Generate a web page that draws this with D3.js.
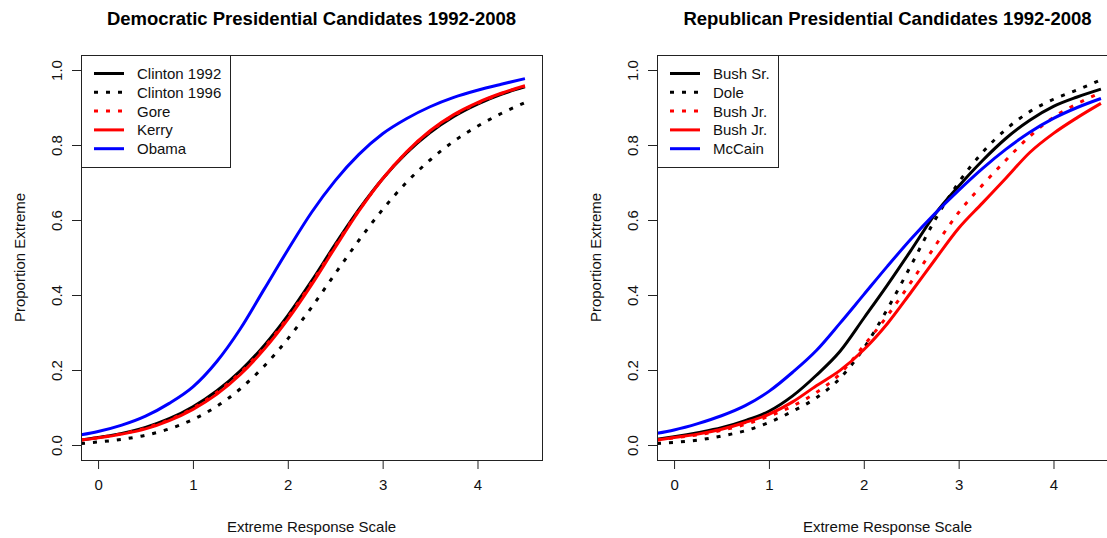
<!DOCTYPE html>
<html>
<head>
<meta charset="utf-8">
<script src="https://cdn.jsdelivr.net/npm/d3@7"></script>
<style>
  body { margin: 0; background: #fff; }
  svg { font-family: "Liberation Sans", Arial, sans-serif; display: block; }
</style>
</head>
<body>
<svg id="canvas" width="1107" height="538"></svg>
<script>
// x grid shared by every curve
let xValues = [-0.18, 0, 0.25, 0.5, 0.75, 1, 1.25, 1.5, 1.75, 2, 2.25, 2.5, 2.75, 3, 3.25, 3.5, 3.75, 4, 4.25, 4.5]

let xTicks = [0, 1, 2, 3, 4]
let yTicks = [0, 0.2, 0.4, 0.6, 0.8, 1.0]

// Democrats
let demNames = ['Clinton 1992', 'Clinton 1996', 'Gore', 'Kerry', 'Obama']
let clinton1992 = [0.013, 0.020, 0.031, 0.047, 0.070, 0.102, 0.144, 0.198, 0.265, 0.345, 0.437, 0.535, 0.628, 0.710, 0.778, 0.833, 0.876, 0.909, 0.935, 0.955]
let clinton1996 = [0.004, 0.008, 0.015, 0.026, 0.043, 0.068, 0.103, 0.150, 0.210, 0.283, 0.367, 0.457, 0.546, 0.628, 0.700, 0.760, 0.810, 0.850, 0.884, 0.913]
let gore = [0.013, 0.020, 0.030, 0.045, 0.067, 0.098, 0.140, 0.193, 0.260, 0.340, 0.432, 0.531, 0.626, 0.710, 0.780, 0.836, 0.879, 0.911, 0.937, 0.957]
let kerry = [0.013, 0.019, 0.029, 0.043, 0.065, 0.095, 0.135, 0.188, 0.255, 0.335, 0.427, 0.527, 0.624, 0.710, 0.781, 0.838, 0.881, 0.913, 0.938, 0.958]
let obama = [0.027, 0.036, 0.053, 0.077, 0.111, 0.155, 0.222, 0.310, 0.415, 0.520, 0.620, 0.705, 0.775, 0.830, 0.870, 0.902, 0.927, 0.946, 0.962, 0.977]

// Republicans
let repNames = ['Bush Sr.', 'Dole', 'Bush Jr.', 'Bush Jr.', 'McCain']
let bushSr = [0.015, 0.022, 0.033, 0.046, 0.065, 0.090, 0.131, 0.186, 0.250, 0.338, 0.427, 0.520, 0.615, 0.690, 0.758, 0.818, 0.866, 0.903, 0.928, 0.949]
let dole = [0.004, 0.007, 0.013, 0.024, 0.038, 0.060, 0.090, 0.126, 0.178, 0.258, 0.363, 0.480, 0.600, 0.700, 0.780, 0.842, 0.889, 0.922, 0.947, 0.974]
let bushJr2000 = [0.013, 0.019, 0.027, 0.039, 0.055, 0.077, 0.104, 0.140, 0.190, 0.265, 0.345, 0.435, 0.530, 0.620, 0.693, 0.760, 0.823, 0.874, 0.910, 0.940]
let bushJr2004 = [0.013, 0.020, 0.029, 0.042, 0.060, 0.082, 0.115, 0.158, 0.199, 0.254, 0.324, 0.408, 0.494, 0.578, 0.645, 0.712, 0.780, 0.831, 0.873, 0.911]
let mccain = [0.031, 0.040, 0.057, 0.078, 0.105, 0.143, 0.194, 0.252, 0.325, 0.401, 0.477, 0.550, 0.617, 0.679, 0.737, 0.789, 0.834, 0.871, 0.900, 0.924]

// line styles, same order in both panels
let lineColors = ['#000000', '#000000', '#ff0000', '#ff0000', '#0000ff']
let lineDash = [null, '4,8', '4,8', null, null]

let svg = d3.select('#canvas')

let plotW = 461
let plotTop = 55
let plotBottom = 460

let drawPanel = (left, title, names, series, legendW, id) => {
    let x = d3.scaleLinear().domain([-0.18, 4.68]).range([left, left + plotW])
    let y = d3.scaleLinear().domain([-0.04, 1.04]).range([plotBottom, plotTop])
    let g = svg.append('g')

    g.append('clipPath').attr('id', 'clip' + id)
        .append('rect')
        .attr('x', left).attr('y', plotTop)
        .attr('width', plotW).attr('height', plotBottom - plotTop)

    let line = d3.line()
        .x((d, i) => x(xValues[i]))
        .y(d => y(d))
        .curve(d3.curveMonotoneX)

    // draw in order so later series sit on top
    let order = [0, 1, 2, 3, 4]
    g.append('g').attr('clip-path', 'url(#clip' + id + ')')
        .selectAll('path')
        .data(order)
        .enter()
        .append('path')
        .attr('d', i => line(series[i]))
        .attr('fill', 'none')
        .attr('stroke', i => lineColors[i])
        .attr('stroke-width', 3)
        .attr('stroke-dasharray', i => lineDash[i])

    // axes
    let xAxis = d3.axisBottom(x).tickValues(xTicks).tickFormat(d3.format('d')).tickSize(9).tickPadding(10)
    let gx = g.append('g').attr('transform', 'translate(0,' + plotBottom + ')').call(xAxis)
    gx.select('.domain').remove()
    gx.selectAll('text').attr('font-size', 15).attr('fill', '#111').attr('font-family', 'Liberation Sans, Arial, sans-serif')
    gx.selectAll('line').attr('stroke', '#222')

    let yAxis = d3.axisLeft(y).tickValues(yTicks).tickFormat(d3.format('.1f')).tickSize(9)
    let gy = g.append('g').attr('transform', 'translate(' + left + ',0)').call(yAxis)
    gy.select('.domain').remove()
    gy.selectAll('line').attr('stroke', '#222')
    gy.selectAll('text')
        .attr('font-size', 15).attr('fill', '#111').attr('font-family', 'Liberation Sans, Arial, sans-serif')
        .attr('x', null).attr('dy', null)
        .attr('text-anchor', 'middle')
        .attr('transform', 'translate(-19,0) rotate(-90)')

    // frame
    g.append('rect')
        .attr('x', left + 0.5).attr('y', plotTop + 0.5)
        .attr('width', plotW).attr('height', plotBottom - plotTop)
        .attr('fill', 'none').attr('stroke', '#222').attr('stroke-width', 1)

    // titles
    g.append('text')
        .attr('x', left + plotW / 2).attr('y', 25)
        .attr('text-anchor', 'middle')
        .attr('font-size', 18.5).attr('font-weight', 'bold')
        .text(title)
    g.append('text')
        .attr('x', left + plotW / 2).attr('y', 532)
        .attr('text-anchor', 'middle')
        .attr('font-size', 15).attr('fill', '#111')
        .text('Extreme Response Scale')
    g.append('text')
        .attr('transform', 'translate(' + (left - 56) + ',' + ((plotTop + plotBottom) / 2) + ') rotate(-90)')
        .attr('text-anchor', 'middle')
        .attr('font-size', 15).attr('fill', '#111')
        .text('Proportion Extreme')

    // legend
    let lg = g.append('g')
    lg.append('rect')
        .attr('x', left + 0.5).attr('y', plotTop + 0.5)
        .attr('width', legendW).attr('height', 112)
        .attr('fill', '#fff').attr('stroke', '#222').attr('stroke-width', 1)
    let items = lg.selectAll('g.item')
        .data(order)
        .enter()
        .append('g')
        .attr('class', 'item')
        .attr('transform', i => 'translate(' + left + ',' + (plotTop + 18.5 + i * 18.8) + ')')
    items.append('line')
        .attr('x1', 13).attr('x2', 43)
        .attr('stroke', i => lineColors[i])
        .attr('stroke-width', 3)
        .attr('stroke-dasharray', i => lineDash[i])
    items.append('text')
        .attr('x', 56).attr('y', 5.5)
        .attr('font-size', 15).attr('fill', '#111')
        .text(i => names[i])
}

drawPanel(81, 'Democratic Presidential Candidates 1992-2008', demNames,
    [clinton1992, clinton1996, gore, kerry, obama], 149, 'dem')
drawPanel(657, 'Republican Presidential Candidates 1992-2008', repNames,
    [bushSr, dole, bushJr2000, bushJr2004, mccain], 121, 'rep')
</script>
</body>
</html>
